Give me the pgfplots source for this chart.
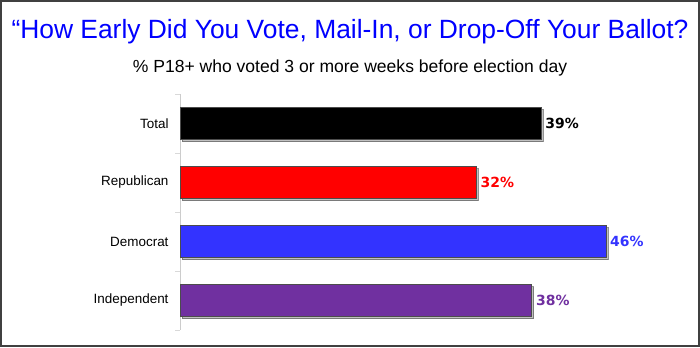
\documentclass[border=0pt]{standalone}
\usepackage{pgfplots}
\pgfplotsset{compat=1.18}
\usetikzlibrary{shadows}
\usepackage{fontspec}
\setmainfont{Liberation Sans}
\newfontfamily\valfont{DejaVu Sans}
\definecolor{repred}{RGB}{255,0,0}
\definecolor{demblue}{RGB}{51,51,255}
\definecolor{indpurple}{RGB}{112,48,160}
\begin{document}
\begin{tikzpicture}[x=1bp,y=1bp]
\fill[white] (0,0) rectangle (700,347);
\draw[line width=2.2bp, black!75] (1.1,1.1) rectangle (698.9,345.9);
\node[font=\fontsize{26.5}{30}\selectfont, text=blue] at (350,315) {“How Early Did You Vote, Mail-In, or Drop-Off Your Ballot?};
\node[font=\fontsize{17.6}{20}\selectfont] at (350,279) {\% P18+ who voted 3 or more weeks before election day};
\begin{axis}[at={(180bp,17bp)}, anchor=south west, scale only axis,
  width=509bp, height=236bp, xmin=0, xmax=55, ymin=-0.5, ymax=3.5, y dir=reverse,
  xbar, bar width=32bp, bar shift=0pt,
  axis lines*=left, axis line style={-, draw=black!20},
  x axis line style={draw=none}, xtick=\empty,
  ytick={0,1,2,3}, yticklabels={Total,Republican,Democrat,Independent},
  minor ytick={-0.5,0.5,1.5,2.5,3.5},
  major tick length=0pt, minor tick length=5bp, tick align=outside,
  minor tick style={draw=black!15},
  yticklabel style={font=\fontsize{13.5}{15}\selectfont, xshift=-8bp},
  clip=false,
  nodes near coords={\pgfmathprintnumber[assume math mode=true]{\pgfplotspointmeta}\%},
  nodes near coords style={font=\valfont\bfseries\fontsize{14}{16}\selectfont, anchor=west, xshift=1bp},
  every axis plot/.append style={drop shadow={shadow xshift=2bp, shadow yshift=-2bp, fill=black!40, opacity=0.6}},
]
\addplot[fill=black, draw=black!70, every node near coord/.append style={text=black}] coordinates {(39,0)};
\addplot[fill=repred, draw=black!70, every node near coord/.append style={text=repred}] coordinates {(32,1)};
\addplot[fill=demblue, draw=black!70, every node near coord/.append style={text=demblue}] coordinates {(46,2)};
\addplot[fill=indpurple, draw=black!70, every node near coord/.append style={text=indpurple}] coordinates {(38,3)};
\end{axis}
\end{tikzpicture}
\end{document}
